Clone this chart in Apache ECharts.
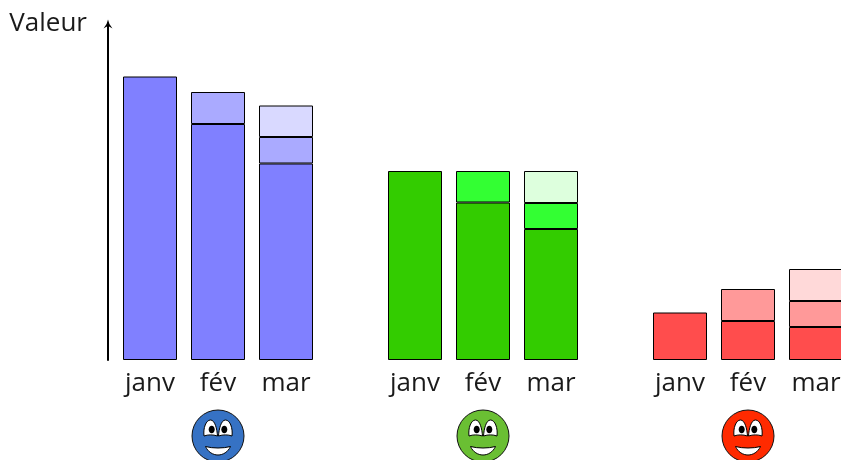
<!DOCTYPE html>
<html>
<head>
<meta charset="utf-8">
<script src="https://cdn.jsdelivr.net/npm/echarts@6/dist/echarts.min.js"></script>
<style>
html, body { margin: 0; padding: 0; background: #fff; }
#chart { width: 841px; height: 460px; }
</style>
</head>
<body>
<div id="chart"></div>
<script>
var months = ["janv", "fév", "mar"];

// valeurs
var blueBase = [28.35, 23.6, 19.65];
var blueMid = [null, 3.2, 2.65];
var blueTop = [null, null, 3.15];

var greenBase = [18.9, 15.75, 13.1];
var greenMid = [null, 3.15, 2.6];
var greenTop = [null, null, 3.2];

var redBase = [4.75, 3.9, 3.3];
var redMid = [null, 3.2, 2.6];
var redTop = [null, null, 3.2];

var yMax = 33.6;

var blueColors = ["#8080ff", "#aaaaff", "#d9d9ff"];
var greenColors = ["#33cc00", "#33ff33", "#ddffdd"];
var redColors = ["#ff4d4d", "#ff9999", "#ffd9d9"];

var fontName = "'Open Sans', 'Noto Sans', sans-serif";

var grids = [];
var xAxes = [];
var yAxes = [];
var series = [];

// smiley dessine sous la barre du milieu
function renderFace(color) {
    return function (params, api) {
        var p = api.coord([api.value(0), 0]);
        return {
            type: "group",
            x: p[0],
            y: p[1] + 76,
            children: [
                { type: "circle", shape: { cx: 0, cy: 0, r: 26 }, style: { fill: color, stroke: "#111", lineWidth: 1 } },
                { type: "path", shape: { pathData: "M-0.5 0 C-1 -7 -3 -16 -7.5 -16 C-12 -16 -15 -8 -14 0 C-10 -1.5 -5 -1.5 -0.5 0 Z" }, style: { fill: "#fff", stroke: "#000", lineWidth: 1 } },
                { type: "path", shape: { pathData: "M0.5 0 C1 -7 3 -16 7.5 -16 C12 -16 15 -8 14 0 C10 -1.5 5 -1.5 0.5 0 Z" }, style: { fill: "#fff", stroke: "#000", lineWidth: 1 } },
                { type: "ellipse", shape: { cx: -6.3, cy: -6.5, rx: 3, ry: 3.8 }, style: { fill: "#000" } },
                { type: "ellipse", shape: { cx: 6.3, cy: -6.5, rx: 3, ry: 3.8 }, style: { fill: "#000" } },
                { type: "path", shape: { pathData: "M-12.5 10.5 C-5 12.5 5 12.5 12.5 10.5 C10 16 5 19 0 19 C-5 19 -10 16 -12.5 10.5 Z" }, style: { fill: "#fff", stroke: "#000", lineWidth: 1 } }
            ]
        };
    };
}

// un groupe = une grille avec trois barres empilees, la grille va du centre de janv au centre de mar
function addGroup(left, values, colors, faceColor) {
    var idx = grids.length;
    grids.push({ left: left, top: 24, width: 136, height: 336, outerBoundsMode: "none" });
    xAxes.push({
        type: "category",
        gridIndex: idx,
        data: months,
        boundaryGap: false,
        axisLine: { show: false },
        axisTick: { show: false },
        axisLabel: { color: "#1a1a1a", fontFamily: fontName, fontSize: 26, margin: 11 }
    });
    yAxes.push({
        type: "value",
        gridIndex: idx,
        min: 0,
        max: yMax,
        show: idx == 0,
        offset: 42,
        name: "Valeur",
        nameLocation: "end",
        nameGap: 0,
        nameTextStyle: { color: "#1a1a1a", fontFamily: fontName, fontSize: 26, align: "right", verticalAlign: "middle", padding: [0, 21, 0, 0] },
        axisLine: {
            show: true,
            symbol: ["none", "path://M0 10 Q4 6 5 0 Q6 6 10 10 Q6 7.5 5 7.5 Q4 7.5 0 10 Z"],
            symbolSize: [13, 9],
            lineStyle: { color: "#000", width: 2 }
        },
        axisTick: { show: false },
        axisLabel: { show: false },
        splitLine: { show: false }
    });
    for (var i = 0; i < values.length; i++) {
        series.push({
            type: "bar",
            xAxisIndex: idx,
            yAxisIndex: idx,
            stack: "g" + idx,
            barWidth: 54,
            clip: false,
            data: values[i],
            itemStyle: { color: colors[i], borderColor: "#000", borderWidth: 1 },
            silent: true
        });
    }
    series.push({
        type: "custom",
        xAxisIndex: idx,
        yAxisIndex: idx,
        clip: false,
        silent: true,
        data: [[1]],
        encode: { x: 0 },
        renderItem: renderFace(faceColor)
    });
}

addGroup(150, [blueBase, blueMid, blueTop], blueColors, "#3672c4");
addGroup(415, [greenBase, greenMid, greenTop], greenColors, "#6abf33");
addGroup(680, [redBase, redMid, redTop], redColors, "#ff2a00");

var myChart = echarts.init(document.getElementById("chart"), null, { renderer: "canvas" });
myChart.setOption({
    animation: false,
    backgroundColor: "#fff",
    grid: grids,
    xAxis: xAxes,
    yAxis: yAxes,
    series: series
});
</script>
</body>
</html>
